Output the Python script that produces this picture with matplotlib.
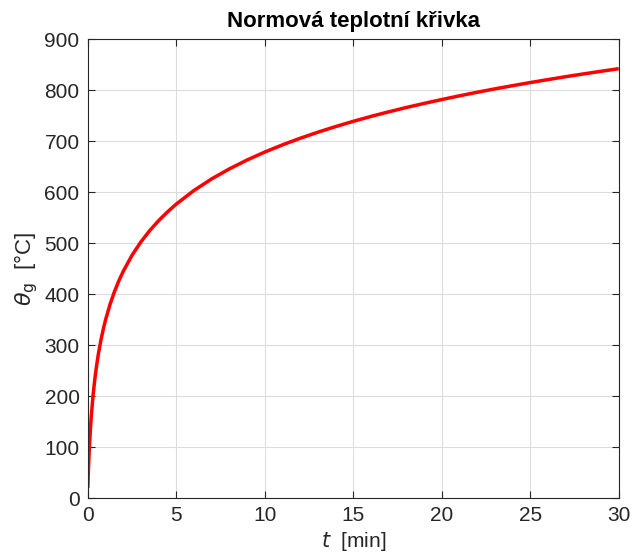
import matplotlib
matplotlib.use("Agg")
import matplotlib.pyplot as plt

plt.rcParams['font.family'] = ['Liberation Sans', 'DejaVu Sans']

t_min = [0, 0.01, 0.02, 0.03, 0.05, 0.07, 0.1, 0.15, 0.2, 0.3, 0.4, 0.5, 0.6, 0.75,
         0.9, 1, 1.25, 1.5, 1.75, 2, 2.5, 3, 3.5, 4, 4.5, 5, 6, 7, 8, 9, 10, 11, 12,
         13, 14, 15, 16, 17, 18, 19, 20, 21, 22, 23, 24, 25, 26, 27, 28, 29, 30]
theta_g = [20.0, 31.5, 42.2, 52.2, 70.4, 86.6, 108.1, 138.1, 163.2, 203.4, 235.0, 261.1,
           283.4, 311.6, 335.3, 349.2, 379.3, 404.3, 425.8, 444.5, 476.2, 502.3, 524.5,
           543.9, 561.0, 576.4, 603.1, 625.8, 645.4, 662.8, 678.4, 692.5, 705.4, 717.3,
           728.3, 738.6, 748.2, 757.2, 765.7, 773.7, 781.3, 788.6, 795.6, 802.2, 808.5,
           814.6, 820.4, 826.1, 831.5, 836.7, 841.8]
x_ticks = [0, 5, 10, 15, 20, 25, 30]
y_ticks = [0, 100, 200, 300, 400, 500, 600, 700, 800, 900]

fig = plt.figure(figsize=(6.32, 5.58), dpi=100)
ax = fig.add_axes([0.139, 0.1075, 0.840, 0.8226])
ax.plot(t_min, theta_g, color='#ff0000', lw=2.5, solid_capstyle='butt', solid_joinstyle='round')
ax.set_xlim(0, 30)
ax.set_ylim(0, 900)
ax.set_xticks(x_ticks)
ax.set_yticks(y_ticks)
ax.grid(True, color='#dcdcdc', lw=0.8)
ax.set_axisbelow(True)
ax.tick_params(direction='in', length=5, width=0.8, labelsize=15, colors='#262626')
ax.tick_params(axis='x', pad=6)
ax.tick_params(axis='y', pad=6)
for s in ax.spines.values():
    s.set_color('#262626')
    s.set_linewidth(0.8)
ax.tick_params(top=True, right=True)
ax.set_title('Normová teplotní křivka', fontsize=16, fontweight='bold', pad=9)
ax.set_xlabel(r'$\mathit{t}$  [min]', fontsize=15, color='#262626', labelpad=3)
ax.set_ylabel(r'$\theta_{\mathrm{g}}$  [°C]', fontsize=16, color='#262626', labelpad=3)
fig.savefig('out.png', dpi=100)
